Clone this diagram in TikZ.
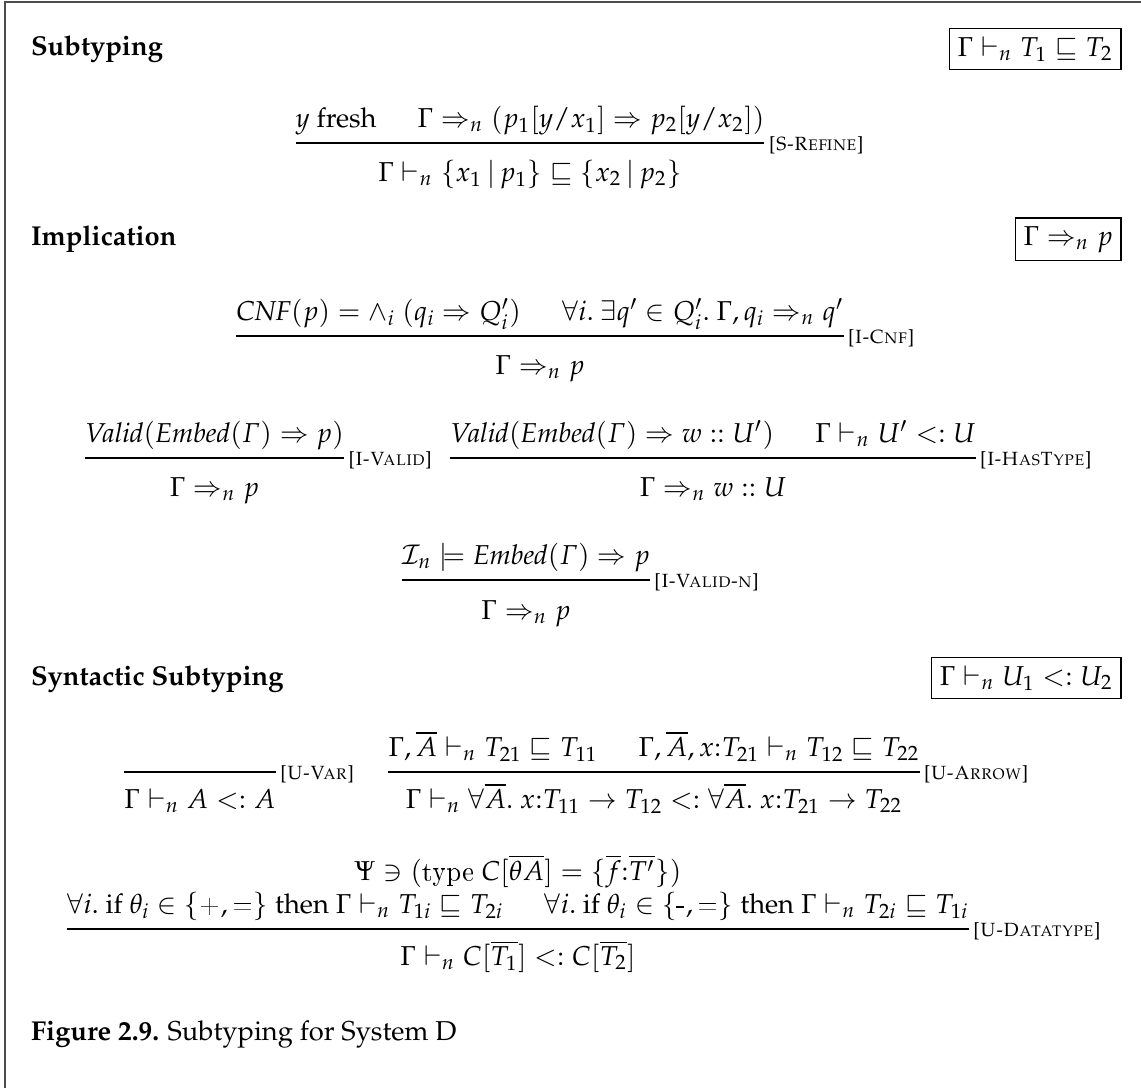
\documentclass[tikz,border=0pt]{standalone}
\usepackage[T1]{fontenc}
\usepackage{amsmath,amssymb}
\usepackage{mathpazo}
\usetikzlibrary{calc}

\newcommand{\subtyrel}{\mathrel{<:}}
\newcommand{\premsep}{\hspace{1.5em}}
\newcommand{\setbar}{\,|\,}
\newcommand{\ttsym}[1]{\mathord{\texttt{#1}}}

\tikzset{
  judg/.style={anchor=base, inner sep=0pt, outer sep=0pt},
  rulebar/.style={line width=0.4pt},
  rname/.style={anchor=west, inner sep=0pt, outer sep=0pt, yshift=-1pt, font=\scriptsize\scshape},
  head/.style={anchor=base west, inner sep=0pt, outer sep=0pt, font=\bfseries},
  jbox/.style={draw, line width=0.4pt, anchor=base east, inner sep=3pt, outer sep=0pt},
  frameline/.style={line width=0.5pt, gray!60!black}
}

\begin{document}
\begin{tikzpicture}[x=0.3663pt, y=-0.3663pt]
\useasboundingbox (0,0) rectangle (1141,1088);

% figure frame (top and left edges)
\draw[frameline] (5,1088) -- (5,2) -- (1141,2);

% ---------- Subtyping ----------
\node[head] (h1) at (31,55) {Subtyping};
\node[jbox] (b1) at (1121,56) {$\Gamma \vdash_n T_1 \sqsubseteq T_2$};

\node[judg] (srP) at (530,127) {$y$ fresh\premsep$\Gamma \Rightarrow_n (p_1[y/x_1] \Rightarrow p_2[y/x_2])$};
\node[judg] (srC) at (530,181) {$\Gamma \vdash_n \{x_1 \setbar p_1\} \sqsubseteq \{x_2 \setbar p_2\}$};
\draw[rulebar] (srP.west |- 0,143) coordinate (srL) -- (srP.east |- 0,143) coordinate (srR);
\node[rname] (srN) at ([xshift=1.5pt]srR) {[S-Refine]};

% ---------- Implication ----------
\node[head] (h2) at (31,245) {Implication};
\node[jbox] (b2) at (1121,245) {$\Gamma \Rightarrow_n p$};

\node[judg] (cnP) at (540,320) {$\mathit{CNF}(p) = \wedge_i\ (q_i \Rightarrow Q_i')$\premsep$\forall i.\ \exists q' \in Q_i'.\ \Gamma, q_i \Rightarrow_n q'$};
\node[judg] (cnC) at (540,374) {$\Gamma \Rightarrow_n p$};
\draw[rulebar] (cnP.west |- 0,336) coordinate (cnL) -- (cnP.east |- 0,336) coordinate (cnR);
\node[rname] (cnN) at ([xshift=1.5pt]cnR) {[I-Cnf]};

\node[judg, anchor=base west] (ivP) at (85,442) {$\mathit{Valid}(\mathit{Embed}(\varGamma) \Rightarrow p)$};
\node[judg] (ivC) at (ivP.base |- 0,496) {$\Gamma \Rightarrow_n p$};
\draw[rulebar] (ivP.west |- 0,458) coordinate (ivL) -- (ivP.east |- 0,458) coordinate (ivR);
\node[rname] (ivN) at ([xshift=1.5pt]ivR) {[I-Valid]};

\node[judg] (htP) at (713,442) {$\mathit{Valid}(\mathit{Embed}(\varGamma) \Rightarrow w :: U')$\premsep$\Gamma \vdash_n U' \subtyrel U$};
\node[judg] (htC) at (713,496) {$\Gamma \Rightarrow_n w :: U$};
\draw[rulebar] (htP.west |- 0,458) coordinate (htL) -- (htP.east |- 0,458) coordinate (htR);
\node[rname] (htN) at ([xshift=1.5pt]htR) {[I-HasType]};

\node[judg] (vnP) at (526,564) {$\mathcal{I}_n \models \mathit{Embed}(\varGamma) \Rightarrow p$};
\node[judg] (vnC) at (526,619) {$\Gamma \Rightarrow_n p$};
\draw[rulebar] (vnP.west |- 0,580) coordinate (vnL) -- (vnP.east |- 0,580) coordinate (vnR);
\node[rname] (vnN) at ([xshift=1.5pt]vnR) {[I-Valid-n]};

% ---------- Syntactic Subtyping ----------
\node[head] (h3) at (31,685) {Syntactic Subtyping};
\node[jbox] (b3) at (1121,685) {$\Gamma \vdash_n U_1 \subtyrel U_2$};

\node[judg] (uvC) at (200,808) {$\Gamma \vdash_n A \subtyrel A$};
\draw[rulebar] (uvC.west |- 0,772) coordinate (uvL) -- (uvC.east |- 0,772) coordinate (uvR);
\node[rname] (uvN) at ([xshift=1.5pt]uvR) {[U-Var]};

\node[judg] (uaP) at (654,756) {$\Gamma, \overline{A} \vdash_n T_{21} \sqsubseteq T_{11}$\premsep$\Gamma, \overline{A}, x{:}T_{21} \vdash_n T_{12} \sqsubseteq T_{22}$};
\node[judg] (uaC) at (654,808) {$\Gamma \vdash_n \forall\overline{A}.\ x{:}T_{11} \to T_{12} \subtyrel \forall\overline{A}.\ x{:}T_{21} \to T_{22}$};
\draw[rulebar] (uaP.west |- 0,772) coordinate (uaL) -- (uaP.east |- 0,772) coordinate (uaR);
\node[rname] (uaN) at ([xshift=1.5pt]uaR) {[U-Arrow]};

\node[judg] (udP) at (518,880) {$\Psi \ni (\texttt{type}\ C[\overline{\theta A}] = \{\overline{f}{:}\overline{T'}\})$};
\node[judg] (udQ) at (518,913) {$\forall i.$ if $\theta_i \in \{\ttsym{+},\ttsym{=}\}$ then $\Gamma \vdash_n T_{1i} \sqsubseteq T_{2i}$\premsep$\forall i.$ if $\theta_i \in \{\ttsym{-},\ttsym{=}\}$ then $\Gamma \vdash_n T_{2i} \sqsubseteq T_{1i}$};
\node[judg] (udC) at (518,965) {$\Gamma \vdash_n C[\overline{T_1}] \subtyrel C[\overline{T_2}]$};
\draw[rulebar] (udQ.west |- 0,929) coordinate (udL) -- (udQ.east |- 0,929) coordinate (udR);
\node[rname] (udN) at ([xshift=1.5pt]udR) {[U-Datatype]};

% ---------- caption ----------
\node[head, font=\normalfont] (cap) at (31,1040) {\textbf{Figure 2.9.} Subtyping for System D};
\end{tikzpicture}
\end{document}
